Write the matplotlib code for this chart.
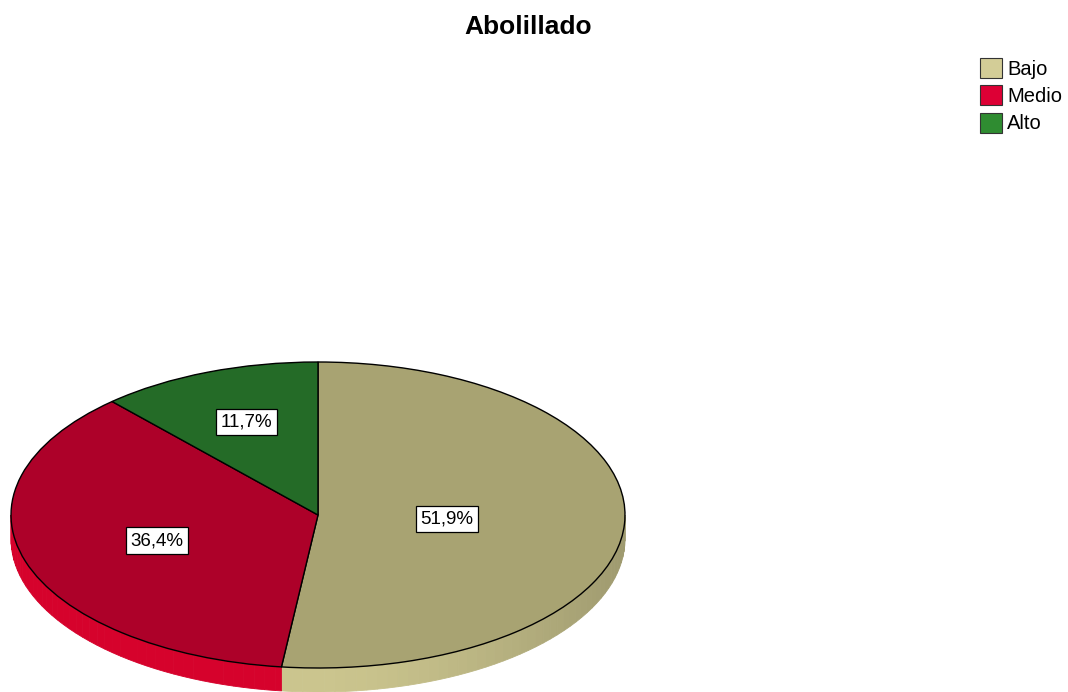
import numpy as np
import matplotlib
matplotlib.use("Agg")
import matplotlib.pyplot as plt
from matplotlib.patches import Polygon, Patch
import matplotlib.colors as mcolors

plt.rcParams['font.family'] = ['Liberation Sans', 'DejaVu Sans']

title = "Abolillado"
categories = ["Bajo", "Medio", "Alto"]
percents = [51.9, 36.4, 11.7]
labels = ["51,9%", "36,4%", "11,7%"]

top_colors = ["#a8a372", "#ad0129", "#246b27"]
side_colors = ["#cbc58e", "#d6022c", "#2e8a30"]
legend_colors = ["#d3cd97", "#dd0035", "#2f8c31"]
label_radius = [0.42, 0.55, 0.65]

W, H = 1068, 692
fig = plt.figure(figsize=(W / 100, H / 100), dpi=100)
ax = fig.add_axes([0, 0, 1, 1])

# pixel geometry of the ellipse
cx, cy, rx, ry, depth_px = 318, 515, 307, 153, 24
xlim = ((0 - cx) / rx, (W - cx) / rx)
ylim = ((cy - H) / ry, cy / ry)
d = depth_px / ry

vals = np.array(percents)
fracs = vals / vals.sum()
start = 90.0
bounds = []
a = start
for f in fracs:
    b = a - f * 360
    bounds.append((b, a))
    a = b

# side of the 3D pie
for (t1, t2), col in zip(bounds, side_colors):
    lo, hi = t1 % 360, (t1 % 360) + (t2 - t1)
    segs = []
    for base in (0, 360, -360):
        s, e = max(lo + base, 180), min(hi + base, 360)
        if e > s:
            segs.append((s, e))
    for s, e in segs:
        steps = np.arange(s, e, 2.0).tolist() + [e]
        for k in range(len(steps) - 1):
            u, v = steps[k], steps[k + 1]
            tt = np.radians(np.linspace(u, v, 4))
            xs = np.cos(tt)
            ys = np.sin(tt)
            poly = np.vstack([np.column_stack([xs, ys]),
                              np.column_stack([xs[::-1], ys[::-1] - d])])
            mid = np.radians((u + v) / 2)
            shade = 1.0 - 0.22 * max(0.0, np.cos(mid)) ** 1.5
            rgb = np.clip(np.array(mcolors.to_rgb(col)) * shade, 0, 1)
            ax.add_patch(Polygon(poly, closed=True, facecolor=rgb,
                                 edgecolor=rgb, linewidth=0.6, zorder=1))

# top face
wedges, _ = ax.pie(vals, colors=top_colors, startangle=90, counterclock=False,
                   wedgeprops=dict(edgecolor="black", linewidth=1.0),
                   radius=1.0)
for w in wedges:
    w.set_zorder(2)

# labels
for (t1, t2), lab, r in zip(bounds, labels, label_radius):
    m = np.radians((t1 + t2) / 2)
    ax.text(r * np.cos(m), r * np.sin(m), lab, ha="center", va="center",
            fontsize=13.5, color="black", zorder=5,
            bbox=dict(boxstyle="square,pad=0.25", facecolor="white",
                      edgecolor="black", linewidth=0.9))

ax.set_aspect("auto")
ax.set_xlim(*xlim)
ax.set_ylim(*ylim)
ax.axis("off")

fig.text(528 / W, 1 - 27 / H, title, ha="center", va="center",
         fontsize=19, fontweight="bold")

handles = [Patch(facecolor=c, edgecolor="#333333", linewidth=0.8)
           for c in legend_colors]
leg = fig.legend(handles, categories, loc="upper left",
                 bbox_to_anchor=(966 / W, 1 - 44 / H), frameon=False,
                 fontsize=14.5, handlelength=1.1, handleheight=1.15,
                 handletextpad=0.25, labelspacing=0.32, borderpad=0.2)

fig.savefig("out.png", dpi=100, facecolor="white")
